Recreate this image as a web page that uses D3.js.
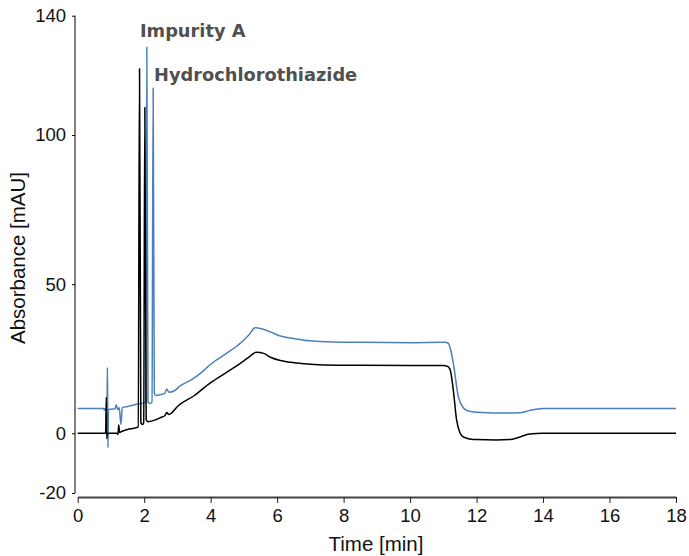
<!DOCTYPE html>
<html>
<head>
<meta charset="utf-8">
<script src="https://cdn.jsdelivr.net/npm/d3@7"></script>
<style>
  body { margin: 0; background: #fff; }
  svg { display: block; }
</style>
</head>
<body>
<div id="chart"></div>
<script>
var width = 689, height = 556;

// black trace (sample)
var timeBlack = [0, 0.84, 0.86, 0.875, 0.89, 1.18, 1.21, 1.235, 1.26, 1.35, 1.5, 1.77, 1.82, 1.86, 1.9, 1.95, 1.985, 2.02, 2.06, 2.12,
    2.38, 2.5, 2.62, 2.68, 2.74, 2.8, 3.0, 3.5, 4.0, 4.5, 5.0, 5.2, 5.37, 5.6, 5.8, 6.1, 6.4, 6.8, 7.4, 8.5,
    10.0, 11.0, 11.1, 11.2, 11.3, 11.4, 11.5, 11.6, 11.8, 12.0, 12.6, 13.0, 13.3, 13.6, 14.0, 18.0];
var absBlack = [0, 0, 12.1, -1.8, 0, 0, -0.4, 2.8, 0.3, 0.8, 1.3, 1.9, 2.2, 122.2, 3.5, 3.0, 3.5, 109.2, 4.5, 3.9,
    4.7, 5.3, 5.9, 7.0, 6.3, 6.6, 9.0, 12.6, 17.0, 20.6, 24.3, 26.0, 27.2, 26.8, 25.5, 24.4, 23.8, 23.3, 22.9, 22.8,
    22.7, 22.7, 22.6, 21.5, 14.5, 4.4, 0.2, -1.2, -1.9, -2.1, -2.2, -2.1, -1.2, -0.2, 0, 0];

// blue trace (standard)
var timeBlue = [0, 0.78, 0.8, 0.83, 0.88, 0.895, 0.91, 0.925, 1.0, 1.12, 1.16, 1.2, 1.25, 1.3, 1.34, 1.5, 1.8, 2.0, 2.045, 2.08,
    2.115, 2.17, 2.235, 2.27, 2.305, 2.35, 2.5, 2.62, 2.68, 2.74, 2.9, 3.08, 3.4, 3.7, 3.9, 4.1, 4.5, 4.9, 5.15, 5.34,
    5.55, 5.8, 6.1, 6.5, 7.0, 7.5, 8.5, 10.0, 11.05, 11.15, 11.22, 11.3, 11.45, 11.6, 11.75, 12.0, 13.0, 13.3, 13.6, 14.0, 18.0];
var absBlue = [8.3, 8.3, 7.8, 8.3, 8.2, 22.1, -4.8, 8.0, 8.1, 8.2, 9.6, 8.0, 8.6, 3.0, 8.6, 9.0, 9.8, 10.3, 10.5, 129.4,
    10.4, 10.0, 10.5, 115.7, 13.5, 12.7, 13.0, 13.4, 14.9, 13.8, 14.2, 15.9, 17.8, 20.2, 22.2, 24.0, 27.0, 30.3, 33.0, 35.4,
    35.0, 34.0, 32.6, 31.8, 31.0, 30.7, 30.5, 30.4, 30.5, 30.2, 28.0, 23.5, 12.3, 8.6, 7.5, 7.1, 6.8, 6.9, 7.7, 8.3, 8.3];

var xMajor = [0, 2, 4, 6, 8, 10, 12, 14, 16, 18];
var yMajor = [140, 100, 50, 0, -20];

var peakLabels = ["Impurity A", "Hydrochlorothiazide"];

var x = d3.scaleLinear().domain([0, 18]).range([77.7, 676]);
var y = d3.scaleLinear().domain([-20, 140]).range([493, 15.7]);

var svg = d3.select("#chart").append("svg")
    .attr("width", width)
    .attr("height", height)
    .style("font-family", "'Liberation Sans', Arial, sans-serif");

// y axis
var yAxisG = svg.append("g").attr("transform", "translate(75,0)");
yAxisG.call(d3.axisLeft(y).tickValues(d3.range(-20, 141, 10)).tickSize(1.5).tickFormat(""));
yAxisG.call(d3.axisLeft(y).tickValues(yMajor).tickSize(3).tickPadding(6).tickFormat(function (d) { return String(d); }));
yAxisG.selectAll(".domain").attr("d", "M0," + y(140) + "V" + y(-20)).attr("stroke", "#000");
yAxisG.selectAll("text").style("font-size", "18.5px").attr("fill", "#111");

// x axis
var xAxisG = svg.append("g").attr("transform", "translate(0,497)");
xAxisG.call(d3.axisBottom(x).tickValues(d3.range(0, 18.01, 0.5)).tickSize(3).tickSizeOuter(0).tickFormat(""));
xAxisG.call(d3.axisBottom(x).tickValues(xMajor).tickSize(6).tickSizeOuter(0).tickPadding(6).tickFormat(function (d) { return String(d); }));
xAxisG.selectAll(".domain").attr("stroke", "#444").attr("stroke-width", 1.8);
xAxisG.selectAll("line").attr("stroke", "#222");
xAxisG.selectAll("text").style("font-size", "18.5px").attr("fill", "#111");

// axis titles
svg.append("text")
    .attr("x", 376)
    .attr("y", 551)
    .attr("text-anchor", "middle")
    .style("font-size", "20.5px")
    .attr("fill", "#111")
    .text("Time [min]");

svg.append("text")
    .attr("transform", "translate(25,258) rotate(-90)")
    .attr("text-anchor", "middle")
    .style("font-size", "20.5px")
    .attr("fill", "#111")
    .text("Absorbance [mAU]");

// traces
var line = d3.line()
    .x(function (d) { return x(d[0]); })
    .y(function (d) { return y(d[1]); })
    .curve(d3.curveMonotoneX);

svg.append("path")
    .datum(d3.zip(timeBlue, absBlue))
    .attr("d", line)
    .attr("fill", "none")
    .attr("stroke", "#4b80bd")
    .attr("stroke-width", 1.5);

svg.append("path")
    .datum(d3.zip(timeBlack, absBlack))
    .attr("d", line)
    .attr("fill", "none")
    .attr("stroke", "#000")
    .attr("stroke-width", 1.5);

// peak labels
svg.append("text")
    .attr("x", 140)
    .attr("y", 36.5)
    .style("font-family", "'DejaVu Sans', sans-serif")
    .style("font-weight", "bold")
    .style("font-size", "17.8px")
    .attr("fill", "#505050")
    .text(peakLabels[0]);

svg.append("text")
    .attr("x", 154)
    .attr("y", 81)
    .style("font-family", "'DejaVu Sans', sans-serif")
    .style("font-weight", "bold")
    .style("font-size", "17.8px")
    .attr("fill", "#505050")
    .text(peakLabels[1]);
</script>
</body>
</html>
